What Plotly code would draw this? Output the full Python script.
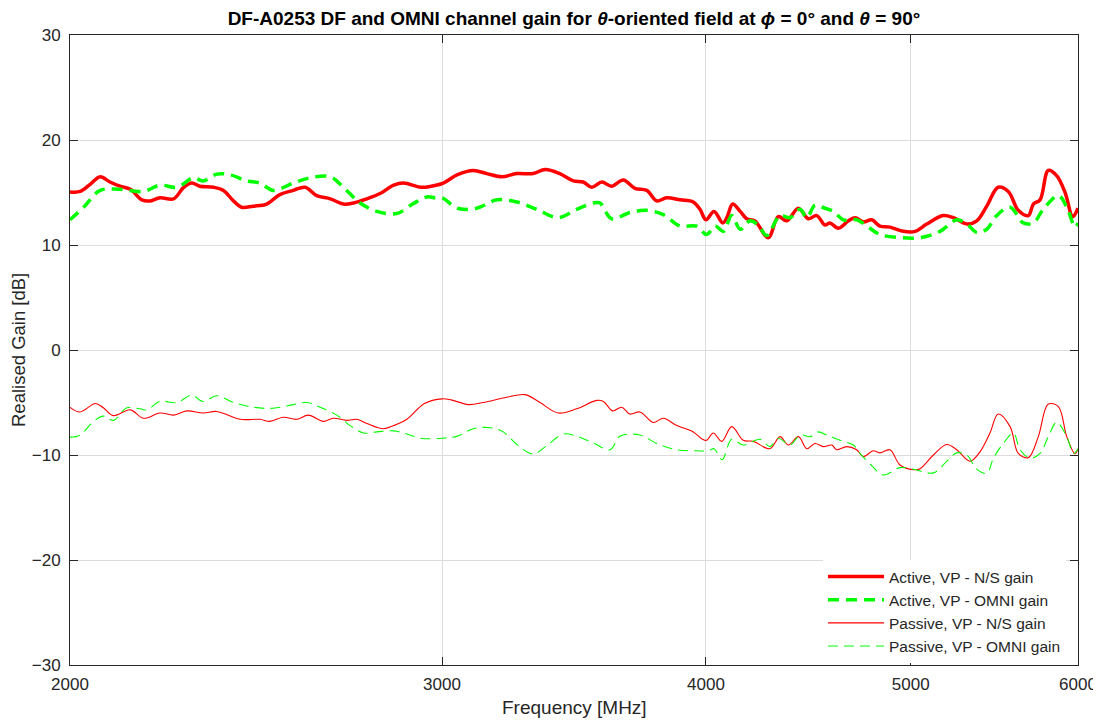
import plotly.graph_objects as go

# Active, VP - N/S gain
act_ns_f = [2000, 2022, 2045, 2067, 2089, 2112, 2136, 2163, 2183, 2206, 2239, 2264, 2284, 2304, 2339, 2364,
            2390, 2411, 2442, 2478, 2514, 2551, 2584, 2617, 2656, 2694, 2724, 2764, 2804, 2846, 2877, 2931,
            2965, 3004, 3051, 3104, 3150, 3202, 3255, 3313, 3357, 3411, 3462, 3499, 3532, 3571, 3609, 3655,
            3702, 3750, 3791, 3832, 3889, 3945, 3974, 4000, 4035, 4074, 4092, 4118, 4152, 4182, 4219, 4281,
            4328, 4368, 4424, 4472, 4513, 4554, 4578, 4621, 4672, 4706, 4748, 4792, 4835, 4888, 4960, 5024,
            5088, 5181, 5238, 5315, 5373, 5432, 5500, 5561, 5622, 5684, 5715, 5757, 5809, 5862, 5916, 5966, 6000]
act_ns_g = [15.06, 15.1, 15.8, 16.5, 16.0, 15.6, 15.3, 14.3, 14.2, 14.5, 14.4, 15.5, 15.9, 15.6, 15.5, 15.2,
            14.2, 13.6, 13.7, 13.9, 14.8, 15.2, 15.5, 14.7, 14.4, 13.9, 14.0, 14.4, 14.9, 15.7, 15.9, 15.5,
            15.6, 15.9, 16.7, 17.1, 16.8, 16.5, 16.8, 16.8, 17.2, 16.8, 16.1, 16.0, 15.5, 16.0, 15.6, 16.2,
            15.4, 15.2, 14.2, 14.5, 14.3, 14.1, 13.4, 12.4, 13.2, 12.1, 12.6, 13.9, 13.2, 12.5, 12.3, 10.7,
            12.7, 12.3, 13.5, 12.5, 12.8, 11.9, 12.1, 11.6, 12.3, 12.6, 12.2, 12.4, 11.8, 11.7, 11.3, 11.3,
            12.0, 12.8, 12.6, 12.0, 12.3, 13.7, 15.5, 15.1, 13.3, 12.8, 13.9, 14.3, 17.1, 16.6, 15.0, 12.7, 13.5]

# Active, VP - OMNI gain
act_om_f = [2000, 2030, 2067, 2112, 2167, 2206, 2247, 2288, 2312, 2347, 2381, 2424, 2460, 2496, 2551, 2598,
            2656, 2694, 2744, 2794, 2856, 2908, 2954, 2976, 3000, 3051, 3115, 3185, 3255, 3326, 3405, 3474,
            3538, 3564, 3609, 3682, 3750, 3818, 3889, 3960, 4003, 4040, 4077, 4114, 4152, 4197, 4234, 4274,
            4336, 4384, 4432, 4465, 4505, 4554, 4596, 4646, 4714, 4774, 4835, 4942, 5051, 5162, 5257, 5315,
            5373, 5432, 5491, 5572, 5653, 5715, 5777, 5873, 5927, 5981, 6000]
act_om_g = [12.4, 13.6, 15.2, 15.3, 15.1, 15.7, 15.5, 16.4, 16.1, 16.75, 16.7, 16.1, 15.9, 15.2, 15.9, 16.4,
            16.5, 15.5, 14.0, 13.2, 13.0, 13.95, 14.6, 14.5, 14.5, 13.5, 13.5, 14.3, 14.1, 13.4, 12.6, 13.4,
            14.0, 14.0, 12.5, 13.1, 13.3, 12.9, 11.8, 11.8, 11.0, 11.8, 11.3, 12.8, 11.5, 12.3, 11.9, 10.9,
            12.8, 12.6, 13.4, 12.6, 13.8, 13.5, 13.2, 12.4, 12.4, 11.7, 11.0, 10.7, 10.7, 11.3, 12.4, 12.0,
            11.2, 11.5, 12.8, 13.6, 12.1, 12.1, 13.4, 14.7, 13.6, 11.7, 12.1]

# Passive, VP - N/S gain
pas_ns_f = [2000, 2022, 2056, 2074, 2097, 2136, 2167, 2206, 2239, 2272, 2312, 2347, 2407, 2460, 2487, 2523,
            2561, 2593, 2636, 2665, 2704, 2734, 2764, 2814, 2846, 2887, 2943, 3000, 3030, 3088, 3138, 3219,
            3284, 3338, 3405, 3474, 3551, 3577, 3613, 3649, 3682, 3722, 3777, 3818, 3875, 3945, 3985, 4003,
            4032, 4069, 4114, 4166, 4212, 4289, 4336, 4376, 4424, 4465, 4505, 4546, 4588, 4612, 4663, 4714,
            4748, 4800, 4835, 4888, 4942, 5014, 5051, 5125, 5200, 5257, 5334, 5392, 5451, 5500, 5572, 5622,
            5684, 5746, 5809, 5873, 5927, 5981, 6000]
pas_ns_g = [-5.46, -5.9, -5.1, -5.5, -6.25, -5.7, -6.5, -6.0, -6.2, -5.8, -6.0, -5.85, -6.6, -6.6, -6.8, -6.4,
            -6.6, -6.2, -6.8, -6.5, -6.7, -6.6, -7.0, -7.5, -7.2, -6.6, -5.1, -4.65, -4.75, -5.2, -5.0, -4.5,
            -4.25, -5.0, -6.0, -5.6, -4.8, -4.9, -5.8, -5.45, -6.1, -5.9, -6.9, -6.5, -7.2, -7.8, -8.5, -8.6,
            -7.9, -8.7, -7.3, -8.6, -8.7, -9.4, -8.25, -9.05, -8.25, -9.4, -8.9, -9.2, -9.05, -9.5, -9.2, -9.5,
            -10.15, -9.6, -9.8, -9.5, -10.95, -11.4, -11.3, -10.0, -9.0, -9.5, -10.6, -9.7, -7.9, -6.1, -7.3, -9.85,
            -10.25, -8.25, -5.15, -5.4, -8.25, -9.9, -9.4]

# Passive, VP - OMNI gain
pas_om_f = [2000, 2022, 2052, 2074, 2097, 2128, 2159, 2175, 2206, 2247, 2284, 2312, 2347, 2390, 2442, 2496,
            2551, 2589, 2627, 2675, 2714, 2754, 2794, 2846, 2887, 2931, 3000, 3051, 3104, 3162, 3207, 3255,
            3313, 3363, 3424, 3474, 3538, 3603, 3643, 3722, 3791, 3875, 3960, 4010, 4035, 4071, 4114, 4166,
            4242, 4289, 4328, 4384, 4432, 4481, 4521, 4563, 4629, 4697, 4731, 4783, 4853, 4942, 5014, 5125,
            5200, 5257, 5315, 5373, 5432, 5472, 5531, 5592, 5633, 5694, 5757, 5809, 5862, 5927, 5970, 6000]
pas_om_g = [-8.3, -8.1, -6.8, -6.3, -6.7, -5.5, -5.6, -5.7, -4.9, -5.0, -4.3, -4.9, -4.35, -5.0, -5.45, -5.55,
            -5.2, -5.0, -5.45, -6.2, -7.2, -7.9, -7.8, -7.7, -8.0, -8.4, -8.4, -8.2, -7.5, -7.4, -7.8, -9.0,
            -9.9, -9.1, -8.0, -8.2, -8.85, -9.5, -8.2, -8.1, -8.9, -9.5, -9.6, -9.6, -9.4, -10.45, -8.5, -9.05,
            -8.5, -9.2, -8.4, -9.05, -8.1, -8.25, -7.8, -8.1, -8.6, -9.05, -9.85, -10.85, -11.9, -11.2, -11.35, -11.7,
            -10.6, -9.8, -10.0, -11.35, -11.75, -10.3, -8.9, -7.9, -9.5, -10.3, -9.85, -8.25, -6.9, -8.25, -9.85, -9.4]

x_ticks = [2000, 3000, 4000, 5000, 6000]
y_ticks = [30, 20, 10, 0, -10, -20, -30]

RED = "rgb(255,0,0)"
GREEN = "rgb(0,255,0)"
AXC = "#262626"
FONT = "Liberation Sans, Arial, sans-serif"

# page body has an 8px margin, so the figure is sized to fit the 1101x720 window
W, H = 1093, 712
ML, MR, MT, MB = 62, 23, 27, 55
PW, PH = W - ML - MR, H - MT - MB

fig = go.Figure()
fig.add_trace(go.Scatter(x=act_ns_f, y=act_ns_g, mode="lines", name="Active, VP - N/S gain",
                         line=dict(color=RED, width=3.5), line_shape="spline"))
fig.add_trace(go.Scatter(x=act_om_f, y=act_om_g, mode="lines", name="Active, VP - OMNI gain",
                         line=dict(color=GREEN, width=3.5, dash="11px,7px"), line_shape="spline"))
fig.add_trace(go.Scatter(x=pas_ns_f, y=pas_ns_g, mode="lines", name="Passive, VP - N/S gain",
                         line=dict(color=RED, width=1.1), line_shape="spline"))
fig.add_trace(go.Scatter(x=pas_om_f, y=pas_om_g, mode="lines", name="Passive, VP - OMNI gain",
                         line=dict(color=GREEN, width=1.1, dash="10px,6px"), line_shape="spline"))

fig.update_layout(
    width=W, height=H,
    margin=dict(l=ML, r=MR, t=MT, b=MB, autoexpand=False),
    paper_bgcolor="white", plot_bgcolor="white",
    font=dict(family=FONT, size=16, color=AXC),
    title=dict(text="DF-A0253 DF and OMNI channel gain for <i>θ</i>-oriented field at <i>ϕ</i> = 0° and <i>θ</i> = 90°",
               x=(ML + PW / 2) / W, xanchor="center", y=1 - 10 / H, yanchor="middle",
               font=dict(family=FONT, size=19, color="black", weight="bold")),
    showlegend=True,
    legend=dict(x=1 - 12 / PW, y=2 / PH, xanchor="right", yanchor="bottom", bgcolor="white",
                borderwidth=0, font=dict(family=FONT, size=15.5, color=AXC),
                itemwidth=56, tracegroupgap=0),
    annotations=[
        dict(text="Frequency [MHz]", x=0.5, xref="paper", y=-42 / PH, yref="paper",
             yanchor="middle", showarrow=False, font=dict(family=FONT, size=19, color=AXC)),
        dict(text="Realised Gain [dB]", x=-52 / PW, xref="paper", xanchor="center",
             y=0.5, yref="paper", showarrow=False, textangle=-90,
             font=dict(family=FONT, size=18.5, color=AXC)),
    ],
)

fig.update_xaxes(type="log", range=[3.30103, 3.778151], tickvals=x_ticks,
                 ticktext=[str(v) for v in x_ticks], automargin=False,
                 showgrid=True, gridcolor="#dcdcdc", gridwidth=1,
                 showline=True, linecolor=AXC, linewidth=1, mirror="ticks",
                 ticks="inside", ticklen=8, tickcolor=AXC, ticklabelstandoff=4,
                 tickfont=dict(size=17, color=AXC), zeroline=False)
fig.update_yaxes(range=[-30, 30], tickvals=y_ticks, automargin=False,
                 showgrid=True, gridcolor="#dcdcdc", gridwidth=1,
                 showline=True, linecolor=AXC, linewidth=1, mirror="ticks",
                 ticks="inside", ticklen=8, tickcolor=AXC, ticklabelstandoff=5,
                 tickfont=dict(size=17, color=AXC), zeroline=False)

fig.write_html("out.html")
